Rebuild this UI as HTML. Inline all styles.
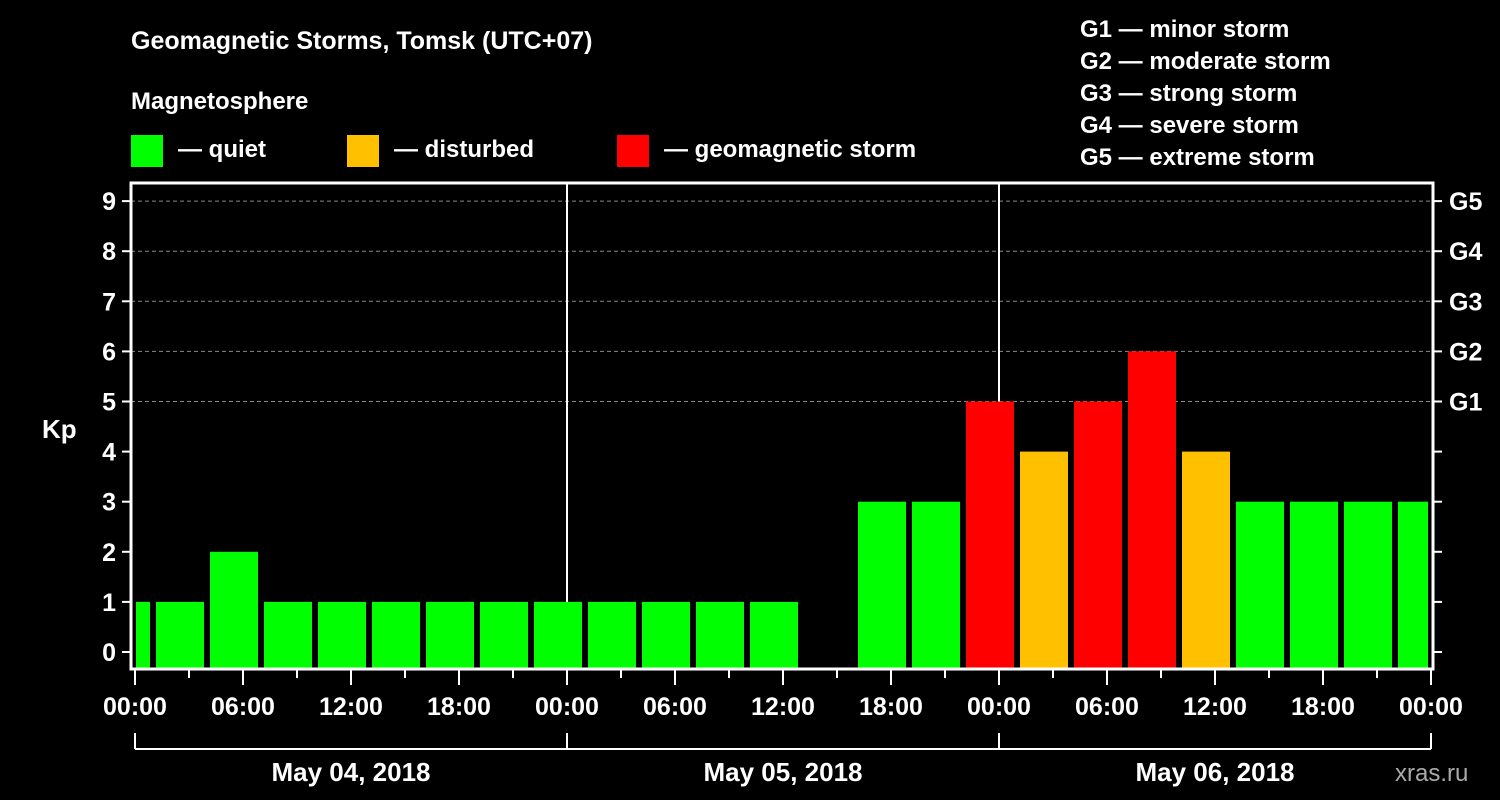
<!DOCTYPE html>
<html><head><meta charset="utf-8"><style>
html,body{margin:0;padding:0;background:#000;width:1500px;height:800px;overflow:hidden}
svg{display:block;font-family:"Liberation Sans",Arial,sans-serif;font-weight:bold}
</style></head><body>
<svg id="chart" width="1500" height="800" viewBox="0 0 1500 800">
<text x="131" y="49" fill="#fff" font-size="25">Geomagnetic Storms, Tomsk (UTC+07)</text>
<text x="131" y="109" fill="#fff" font-size="24">Magnetosphere</text>
<rect x="131" y="135" width="32" height="32" fill="#00ff00"/>
<text x="178" y="157" fill="#fff" font-size="24">— quiet</text>
<rect x="347" y="135" width="32" height="32" fill="#ffc000"/>
<text x="394" y="157" fill="#fff" font-size="24">— disturbed</text>
<rect x="617" y="135" width="32" height="32" fill="#ff0000"/>
<text x="664" y="157" fill="#fff" font-size="24">— geomagnetic storm</text>
<g fill="#fff" font-size="24">
<text x="1080" y="37">G1 — minor storm</text>
<text x="1080" y="69">G2 — moderate storm</text>
<text x="1080" y="101">G3 — strong storm</text>
<text x="1080" y="133">G4 — severe storm</text>
<text x="1080" y="165">G5 — extreme storm</text>
</g>
<text x="42" y="438" fill="#fff" font-size="26">Kp</text>
<text x="1395" y="781" fill="#aaa" font-size="24" font-weight="normal">xras.ru</text>
<g id="grid"></g><g id="bars"></g><g id="axes"></g>
</svg>
<script>
const hours = [-0.5,2.5,5.5,8.5,11.5,14.5,17.5,20.5,23.5,26.5,29.5,32.5,35.5,38.5,41.5,44.5,47.5,50.5,53.5,56.5,59.5,62.5,65.5,68.5,71.5];
const kpValues = [1,1,2,1,1,1,1,1,1,1,1,1,1,null,3,3,5,4,5,6,4,3,3,3,3];
const yTicks = [0,1,2,3,4,5,6,7,8,9];
const gLabels = ["G1","G2","G3","G4","G5"];
const xTickLabels = ["00:00","06:00","12:00","18:00","00:00","06:00","12:00","18:00","00:00","06:00","12:00","18:00","00:00"];
const dayLabels = ["May 04, 2018","May 05, 2018","May 06, 2018"];

const NS="http://www.w3.org/2000/svg";
const X0=135, PX_H=18, L=131, R=1433, T=183, B=669;
const x=h=>X0+h*PX_H;
const y=v=>652-v*50.1;
function mk(tag,attrs,parent,text){const e=document.createElementNS(NS,tag);for(const k in attrs)e.setAttribute(k,attrs[k]);if(text!==undefined)e.textContent=text;document.getElementById(parent).appendChild(e);return e;}
function color(v){return v>=5?"#ff0000":v>=4?"#ffc000":"#00ff00";}

// grid
for(let v=5;v<=9;v++){
 const g=mk('line',{x1:L,x2:R,y1:y(v),y2:y(v),stroke:'#888','stroke-width':1,'stroke-dasharray':'4,3'},'grid');
 
 
}
// day separators
[24,48].forEach(h=>{
 const d=mk('line',{x1:x(h),x2:x(h),y1:T,y2:B,stroke:'#fff','stroke-width':2},'grid');
 
 
});
// bars
hours.forEach((h,i)=>{
 const v=kpValues[i]; if(v==null) return;
 const x1=Math.max(x(h)-24,L+5), x2=Math.min(x(h)+24,R-5);
 const b=mk('rect',{x:x1,y:y(v),width:x2-x1,height:B-1-y(v),fill:color(v)},'bars');
 
 
});
// frame
const f=mk('path',{d:`M${L},${B} L${L},${T} L${R},${T} L${R},${B} Z`,fill:'none',stroke:'#fff','stroke-width':3},'axes');


yTicks.forEach(v=>{
 mk('line',{x1:L-9,x2:L,y1:y(v),y2:y(v),stroke:'#fff','stroke-width':2},'axes');
 mk('line',{x1:R,x2:R+9,y1:y(v),y2:y(v),stroke:'#fff','stroke-width':2},'axes');
 const t=mk('text',{x:L-15,y:y(v)+9,fill:'#fff','font-size':25,'text-anchor':'end'},'axes',String(v));
 
 
});
gLabels.forEach((g,i)=>{
 const t=mk('text',{x:R+16,y:y(i+5)+9,fill:'#fff','font-size':25},'axes',g);
 
 
});
for(let h=3;h<72;h+=6) mk('line',{x1:x(h),x2:x(h),y1:B,y2:B+9,stroke:'#fff','stroke-width':2},'axes');
xTickLabels.forEach((lab,i)=>{
 const h=i*6;
 mk('line',{x1:x(h),x2:x(h),y1:B,y2:B+16,stroke:'#fff','stroke-width':2},'axes');
 const t=mk('text',{x:x(h),y:715,fill:'#fff','font-size':25,'text-anchor':'middle'},'axes',lab);
 
 
});
const br=mk('line',{x1:x(0),x2:x(72),y1:749,y2:749,stroke:'#fff','stroke-width':2},'axes');


[0,24,48,72].forEach(h=>mk('line',{x1:x(h),x2:x(h),y1:733,y2:749,stroke:'#fff','stroke-width':2},'axes'));
dayLabels.forEach((d,i)=>{
 const t=mk('text',{x:x(i*24+12),y:781,fill:'#fff','font-size':26,'text-anchor':'middle'},'axes',d);
 
 
});
</script>
</body></html>
